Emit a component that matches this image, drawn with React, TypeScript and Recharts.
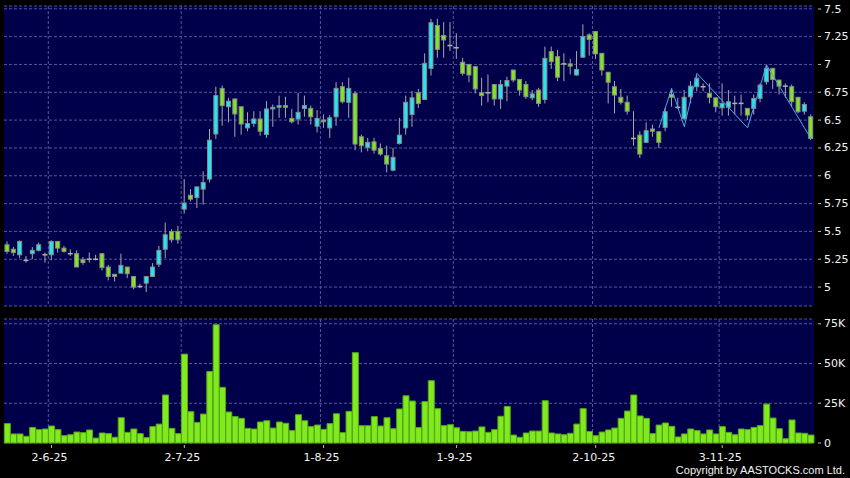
import { ComposedChart, Bar, Line, XAxis, YAxis, CartesianGrid } from 'recharts';

// trading days, d-m-yy
const dates = [
  '22-5-25', '23-5-25', '26-5-25', '27-5-25', '28-5-25', '29-5-25', '30-5-25',
  '2-6-25', '3-6-25', '4-6-25', '5-6-25', '6-6-25', '9-6-25', '10-6-25', '11-6-25', '12-6-25', '13-6-25',
  '16-6-25', '17-6-25', '18-6-25', '19-6-25', '20-6-25', '23-6-25', '24-6-25', '25-6-25', '26-6-25', '27-6-25', '30-6-25',
  '2-7-25', '3-7-25', '4-7-25', '7-7-25', '8-7-25', '9-7-25', '10-7-25', '11-7-25', '14-7-25', '15-7-25', '16-7-25',
  '17-7-25', '18-7-25', '21-7-25', '22-7-25', '23-7-25', '24-7-25', '25-7-25', '28-7-25', '29-7-25', '30-7-25', '31-7-25',
  '1-8-25', '4-8-25', '5-8-25', '6-8-25', '7-8-25', '8-8-25', '11-8-25', '12-8-25', '13-8-25', '14-8-25', '15-8-25',
  '18-8-25', '19-8-25', '20-8-25', '21-8-25', '22-8-25', '25-8-25', '26-8-25', '27-8-25', '28-8-25', '29-8-25',
  '1-9-25', '2-9-25', '3-9-25', '4-9-25', '5-9-25', '8-9-25', '9-9-25', '10-9-25', '11-9-25', '12-9-25',
  '15-9-25', '16-9-25', '17-9-25', '18-9-25', '19-9-25', '22-9-25', '23-9-25', '24-9-25', '25-9-25', '26-9-25', '29-9-25', '30-9-25',
  '2-10-25', '3-10-25', '6-10-25', '8-10-25', '9-10-25', '10-10-25', '13-10-25', '14-10-25', '15-10-25', '16-10-25', '17-10-25',
  '20-10-25', '21-10-25', '22-10-25', '23-10-25', '24-10-25', '27-10-25', '28-10-25', '30-10-25', '31-10-25',
  '3-11-25', '4-11-25', '5-11-25', '6-11-25', '7-11-25', '10-11-25', '11-11-25', '12-11-25', '13-11-25', '14-11-25',
  '17-11-25', '18-11-25', '19-11-25', '20-11-25', '21-11-25',
];

const opens = [
  5.38, 5.34, 5.29, 5.24, 5.30, 5.33, 5.29, 5.29, 5.41, 5.35,
  5.30, 5.30, 5.245, 5.25, 5.25, 5.30, 5.18, 5.095, 5.125, 5.18,
  5.095, 5.005, 5.035, 5.095, 5.205, 5.34, 5.50, 5.50, 5.70, 5.825,
  5.805, 5.88, 5.97, 6.375, 6.785, 6.62, 6.69, 6.62, 6.43, 6.47,
  6.51, 6.37, 6.60, 6.615, 6.63, 6.515, 6.51, 6.605, 6.605, 6.445,
  6.50, 6.43, 6.53, 6.80, 6.66, 6.74, 6.35, 6.255, 6.305, 6.245,
  6.18, 6.05, 6.29, 6.43, 6.55, 6.745, 6.685, 6.965, 7.35, 7.26,
  7.17, 7.15, 7.02, 7.00, 6.98, 6.745, 6.745, 6.82, 6.69, 6.805,
  6.95, 6.865, 6.82, 6.70, 6.77, 6.685, 7.115, 7.07, 7.005, 7.005,
  6.905, 7.065, 7.265, 7.295, 7.10, 6.93, 6.80, 6.705, 6.66, 6.335,
  6.365, 6.30, 6.42, 6.395, 6.435, 6.73, 6.615, 6.515, 6.71, 6.80,
  6.80, 6.74, 6.70, 6.61, 6.615, 6.65, 6.65, 6.605, 6.605, 6.695,
  6.845, 6.965, 6.86, 6.805, 6.80, 6.705, 6.58, 6.53,
];

const highs = [
  5.41, 5.36, 5.42, 5.28, 5.36, 5.40, 5.31, 5.42, 5.41, 5.37,
  5.34, 5.33, 5.27, 5.31, 5.29, 5.30, 5.20, 5.115, 5.30, 5.18,
  5.095, 5.03, 5.095, 5.215, 5.37, 5.58, 5.52, 5.55, 5.97, 5.88,
  5.90, 6.04, 6.42, 6.80, 6.81, 6.70, 6.69, 6.62, 6.57, 6.58,
  6.58, 6.67, 6.64, 6.72, 6.71, 6.60, 6.745, 6.72, 6.63, 6.59,
  6.55, 6.545, 6.84, 6.84, 6.88, 6.76, 6.37, 6.34, 6.34, 6.29,
  6.27, 6.25, 6.52, 6.72, 6.76, 6.78, 7.10, 7.41, 7.41, 7.38,
  7.38, 7.28, 7.06, 7.00, 6.98, 6.88, 6.91, 6.82, 6.86, 6.89,
  6.95, 6.87, 6.85, 6.77, 6.79, 7.16, 7.16, 7.13, 7.10, 7.05,
  7.12, 7.36, 7.28, 7.30, 7.10, 6.93, 6.85, 6.78, 6.72, 6.58,
  6.40, 6.48, 6.46, 6.40, 6.61, 6.78, 6.70, 6.77, 6.85, 6.90,
  6.83, 6.83, 6.70, 6.83, 6.77, 6.72, 6.73, 6.605, 6.73, 6.83,
  6.99, 6.965, 6.86, 6.83, 6.82, 6.705, 6.66, 6.55,
];

const lows = [
  5.30, 5.28, 5.26, 5.22, 5.25, 5.32, 5.22, 5.24, 5.31, 5.31,
  5.28, 5.18, 5.20, 5.22, 5.24, 5.15, 5.06, 5.05, 5.125, 5.08,
  4.98, 4.99, 4.955, 5.09, 5.18, 5.26, 5.40, 5.39, 5.66, 5.77,
  5.71, 5.74, 5.94, 6.33, 6.45, 6.48, 6.35, 6.37, 6.40, 6.44,
  6.36, 6.34, 6.44, 6.52, 6.52, 6.47, 6.46, 6.53, 6.46, 6.39,
  6.43, 6.34, 6.45, 6.65, 6.52, 6.23, 6.21, 6.22, 6.20, 6.18,
  6.03, 6.04, 6.28, 6.37, 6.44, 6.61, 6.68, 6.90, 7.06, 7.06,
  7.12, 7.05, 6.90, 6.84, 6.74, 6.63, 6.66, 6.63, 6.60, 6.67,
  6.84, 6.72, 6.69, 6.68, 6.62, 6.65, 6.96, 6.85, 6.85, 6.91,
  6.90, 7.06, 7.08, 7.05, 6.90, 6.65, 6.56, 6.64, 6.55, 6.27,
  6.16, 6.30, 6.35, 6.25, 6.40, 6.62, 6.60, 6.50, 6.65, 6.76,
  6.76, 6.65, 6.57, 6.54, 6.54, 6.55, 6.54, 6.50, 6.55, 6.66,
  6.82, 6.78, 6.73, 6.70, 6.62, 6.56, 6.55, 6.32,
];

const closes = [
  5.32, 5.31, 5.41, 5.24, 5.33, 5.38, 5.29, 5.41, 5.35, 5.32,
  5.30, 5.18, 5.22, 5.25, 5.25, 5.175, 5.095, 5.115, 5.195, 5.12,
  5.00, 5.005, 5.095, 5.18, 5.33, 5.47, 5.425, 5.425, 5.755, 5.79,
  5.90, 5.94, 6.32, 6.72, 6.63, 6.67, 6.555, 6.465, 6.47, 6.51,
  6.40, 6.60, 6.615, 6.63, 6.615, 6.485, 6.57, 6.63, 6.53, 6.515,
  6.485, 6.52, 6.785, 6.665, 6.785, 6.285, 6.27, 6.30, 6.23, 6.195,
  6.105, 6.165, 6.365, 6.66, 6.70, 6.65, 7.01, 7.375, 7.135, 7.22,
  7.17, 7.15, 6.92, 6.905, 6.78, 6.72, 6.745, 6.69, 6.82, 6.855,
  6.86, 6.77, 6.71, 6.735, 6.65, 7.055, 7.025, 6.885, 7.005, 6.985,
  6.955, 7.25, 7.225, 7.095, 6.95, 6.84, 6.725, 6.66, 6.58, 6.335,
  6.195, 6.405, 6.40, 6.30, 6.575, 6.705, 6.615, 6.705, 6.805, 6.875,
  6.80, 6.705, 6.62, 6.65, 6.665, 6.65, 6.65, 6.545, 6.695, 6.815,
  6.965, 6.865, 6.805, 6.805, 6.665, 6.575, 6.64, 6.335,
];

// volume in thousands of shares
const volumes = [
  12.2, 5.7, 5.7, 4.2, 9.8, 8.4, 8.8, 10.7, 8.4, 4.6,
  5.2, 6.9, 6.5, 8.2, 3.1, 6.3, 5.9, 3.6, 15.9, 6.7,
  8.8, 5.9, 3.4, 10.3, 11.9, 30.2, 9.2, 5.9, 55.9, 19.7,
  13.0, 18.2, 45.0, 74.4, 35.0, 19.5, 16.6, 15.5, 9.2, 8.8,
  13.2, 14.0, 9.4, 13.2, 12.4, 7.8, 17.8, 14.0, 10.3, 11.3,
  8.6, 12.2, 18.4, 6.5, 19.9, 56.8, 10.9, 10.9, 16.6, 10.7,
  15.9, 9.0, 21.4, 29.7, 26.4, 9.7, 26.0, 39.2, 21.6, 10.9,
  11.5, 9.6, 7.3, 7.1, 7.5, 10.1, 6.7, 8.4, 16.8, 23.0,
  5.0, 3.6, 6.3, 7.5, 7.5, 26.6, 6.3, 5.7, 5.2, 6.1,
  11.9, 21.6, 7.3, 4.6, 6.9, 8.2, 9.4, 15.5, 20.1, 30.2,
  17.0, 15.5, 5.9, 11.3, 12.6, 10.5, 3.8, 5.7, 8.8, 7.8,
  5.7, 8.2, 5.7, 10.3, 6.7, 5.2, 8.8, 8.4, 9.8, 10.9,
  24.5, 15.7, 9.0, 2.7, 14.5, 6.3, 6.1, 5.0,
];

// drawn zigzag line
const zigDates = ['17-10-25', '21-10-25', '23-10-25', '27-10-25', '7-11-25', '12-11-25', '21-11-25'];
const zigValues = [6.43, 6.785, 6.44, 6.92, 6.43, 6.995, 6.335];

const tickDates = ['2-6-25', '2-7-25', '1-8-25', '1-9-25', '2-10-25', '3-11-25'];
const priceTicks = [5, 5.25, 5.5, 5.75, 6, 6.25, 6.5, 6.75, 7, 7.25, 7.5];
const volTicks = [0, 25, 50, 75];

const rows = dates.map((date, i) => {
  const z = zigDates.indexOf(date);
  return {
    date,
    open: opens[i],
    high: highs[i],
    low: lows[i],
    close: closes[i],
    vol: volumes[i],
    zig: z >= 0 ? zigValues[z] : null,
  };
});

const NAVY = '#00004a';
const GRID = '#55559a';
const UP = '#22e6f2';
const DOWN = '#80e620';
const WICK = '#a8a8a8';
const FONT = 'DejaVu Sans';

const Candle = (props: any) => {
  const { x, y, width, height, payload } = props;
  if (!payload) return null;
  const { open, close, high, low } = payload;
  const ratio = high > low ? height / (high - low) : 0;
  const yOf = (v: number) => y + (high - v) * ratio;
  const cx = x + width / 2;
  const top = yOf(Math.max(open, close));
  const bot = yOf(Math.min(open, close));
  const doji = Math.abs(open - close) < 0.002;
  return (
    <g>
      <line x1={cx} x2={cx} y1={y} y2={y + height} stroke={WICK} strokeWidth={1} />
      {doji ? (
        <line x1={x} x2={x + width} y1={top} y2={top} stroke="#b0b0b0" strokeWidth={1.5} />
      ) : (
        <rect x={x + 0.5} y={top} width={width - 1} height={Math.max(1, bot - top)} fill={close > open ? UP : DOWN} stroke="#8a8a8a" strokeWidth={1} />
      )}
    </g>
  );
};

const RightTick = (props: any) => {
  const { x, y, payload, fmt } = props;
  return (
    <g>
      <line x1={x + 4} x2={x + 7} y1={y} y2={y} stroke="#b8b8b8" />
      <text x={x + 10} y={y} fill="#f2f2f2" fontSize={11} fontFamily={FONT} dominantBaseline="central">
        {fmt ? fmt(payload.value) : payload.value}
      </text>
    </g>
  );
};

const DateTick = (props: any) => {
  const { x, y, payload } = props;
  return (
    <g>
      <line x1={x} x2={x} y1={y + 2} y2={y + 5} stroke="#b8b8b8" />
      <text x={x - 2} y={y + 14} fill="#f2f2f2" fontSize={11} fontFamily={FONT} textAnchor="middle" dominantBaseline="central">
        {payload.value}
      </text>
    </g>
  );
};

// vertical grid lines sit on the left edge of the tick day's slot
const gridX = (args: any) => {
  const xAxis = args && args.xAxis;
  const s = xAxis && xAxis.scale;
  let out: number[] = [];
  if (typeof s === 'function') {
    out = tickDates.map((d) => s(d)).filter((v: any) => Number.isFinite(v));
  } else if (s && typeof s.map === 'function') {
    out = tickDates.map((d) => s.map(d)).filter((v: any) => Number.isFinite(v));
  }
  if (!out.length && args && args.offset) {
    const { left, width } = args.offset;
    const band = width / rows.length;
    out = tickDates.map((d) => left + dates.indexOf(d) * band);
  }
  return out;
};

export default function App() {
  return (
    <div style={{ position: 'fixed', left: 0, top: 0, width: 850, height: 478, background: '#000', fontFamily: FONT }}>
      <div style={{ position: 'absolute', left: 0, top: 0 }}>
        <ComposedChart width={850} height={312} data={rows} margin={{ top: 6, right: 0, bottom: 6, left: 4 }} barCategoryGap="8%">
          <CartesianGrid fill={NAVY} fillOpacity={1} stroke={GRID} strokeDasharray="3 2" verticalCoordinatesGenerator={gridX} />
          <XAxis dataKey="date" hide ticks={tickDates} interval={0} />
          <YAxis
            orientation="right"
            width={36}
            domain={[4.83, 7.525]}
            ticks={priceTicks}
            axisLine={false}
            tickLine={false}
            tickSize={0}
            tickMargin={0}
            tick={(p: any) => <RightTick {...p} />}
          />
          <Bar dataKey={(d: any) => [d.low, d.high]} shape={Candle} isAnimationActive={false} />
          <Line dataKey="zig" stroke="#4aa8ea" strokeWidth={1} dot={false} connectNulls isAnimationActive={false} />
        </ComposedChart>
      </div>
      <div style={{ position: 'absolute', left: 0, top: 313 }}>
        <ComposedChart width={850} height={165} data={rows} margin={{ top: 6, right: 0, bottom: 0, left: 4 }} barCategoryGap="5%">
          <CartesianGrid fill={NAVY} fillOpacity={1} stroke={GRID} strokeDasharray="3 2" verticalCoordinatesGenerator={gridX} />
          <XAxis
            dataKey="date"
            ticks={tickDates}
            interval={0}
            height={35}
            axisLine={false}
            tickLine={false}
            tickSize={0}
            tickMargin={0}
            tick={(p: any) => <DateTick {...p} />}
          />
          <YAxis
            orientation="right"
            width={36}
            domain={[0, 78]}
            ticks={volTicks}
            axisLine={false}
            tickLine={false}
            tickSize={0}
            tickMargin={0}
            tick={(p: any) => <RightTick {...p} fmt={(v: number) => (v === 0 ? '0' : `${v}K`)} />}
          />
          <Bar dataKey="vol" fill="#80ea1e" stroke="#56a816" strokeWidth={1} isAnimationActive={false} />
        </ComposedChart>
      </div>
      <div
        style={{
          position: 'absolute',
          right: 5,
          top: 464,
          fontSize: 11,
          lineHeight: '12px',
          fontFamily: 'Liberation Sans, Arial, sans-serif',
          color: '#f2f2f2',
          whiteSpace: 'nowrap',
        }}
      >
        Copyright by AASTOCKS.com Ltd.
      </div>
    </div>
  );
}
